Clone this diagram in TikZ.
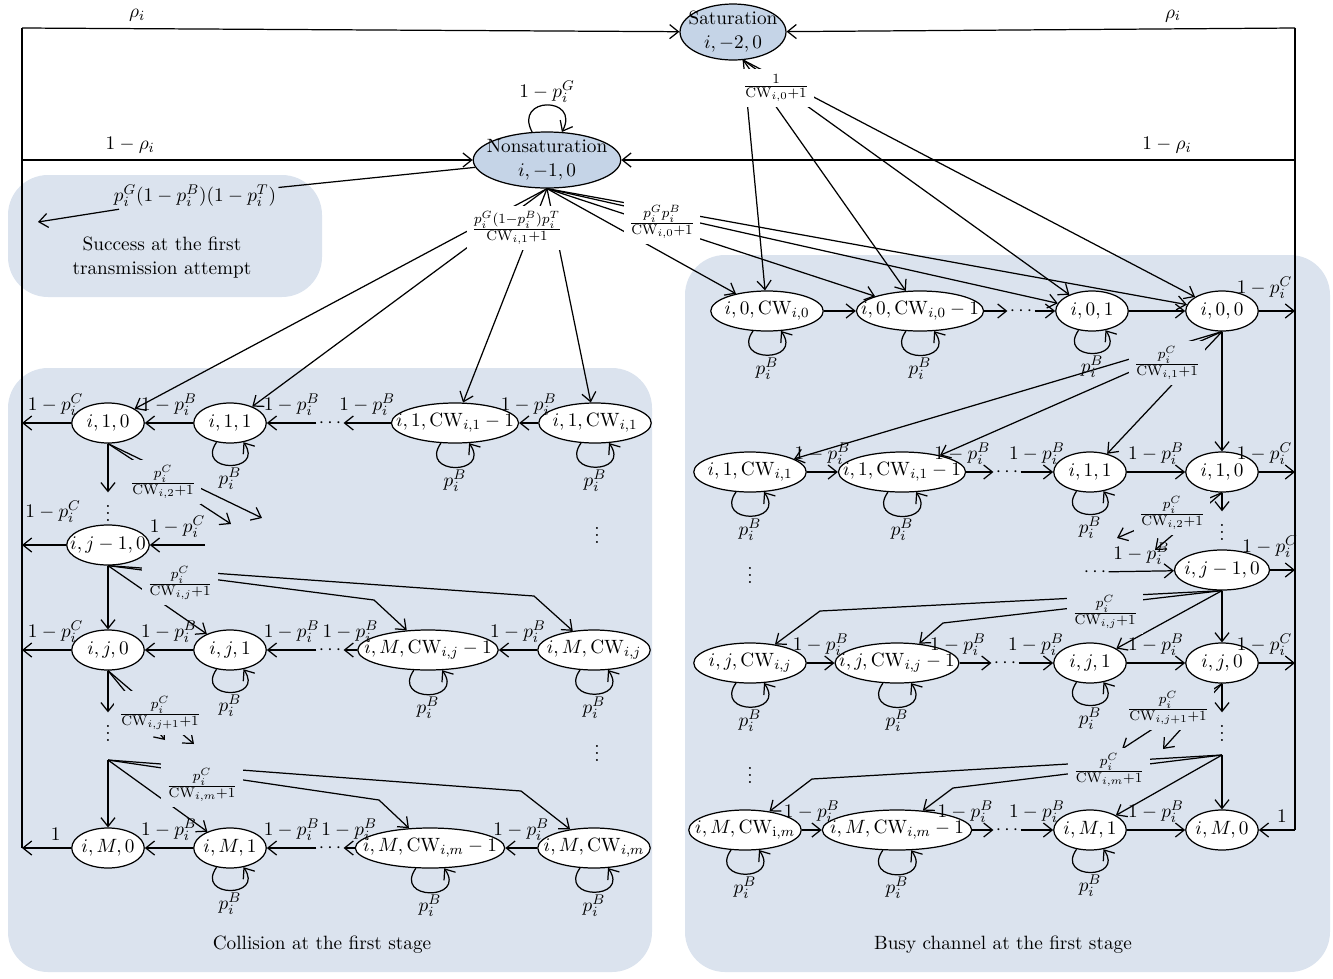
\documentclass[tikz,border=0pt,11pt]{standalone}
\usetikzlibrary{shapes.geometric,arrows.meta}
\definecolor{panel}{RGB}{219,227,238}
\definecolor{stfill}{RGB}{197,212,231}
\newcommand{\cw}[1]{\mathrm{CW}_{#1}}
\begin{document}
\begin{tikzpicture}[x=0.02cm,y=-0.02cm,line width=0.7pt,
  >={Straight Barb[length=5pt,width=8pt]},
  st/.style={ellipse,draw,fill=white,inner xsep=-8pt,inner ysep=1pt,minimum width=1.45cm,minimum height=0.8cm},
  stw/.style={st,minimum width=2.25cm},
  big/.style={ellipse,draw,fill=stfill,align=center,inner xsep=-6pt,inner ysep=-2pt,minimum height=1.12cm},
  pan/.style={fill=panel,rounded corners=0.8cm},
  fr/.style={fill=panel,inner sep=3pt},
  frw/.style={fill=white,inner sep=3pt},
  dt/.style={inner sep=1pt},
  lo/.style={above,xshift=0.18cm},
  ro/.style={above,xshift=-0.25cm},
  td/.style={above,xshift=-0.35cm},
  sl/.style={->,out=-125,in=-55,looseness=3.6,min distance=3.5mm}]
\useasboundingbox (0,0) rectangle (1333,978);
%
\fill[pan] (8,175) rectangle (322,297);
\fill[pan] (8,368) rectangle (652,972);
\fill[pan] (685,255) rectangle (1330,972);
\node[align=center] (tsucc) at (162,258) {Success at the first\\transmission attempt};
\node (tcoll) at (322,945) {Collision at the first stage};
\node (tbusy) at (1003,945) {Busy channel at the first stage};
%
\node[big,minimum width=2.12cm] (sat) at (733,32) {Saturation\\$i,-2,0$};
\node[big,minimum width=2.95cm] (nons) at (547,160) {Nonsaturation\\$i,-1,0$};
\coordinate (tl) at (22,28);
\coordinate (tr) at (1295,28);
\coordinate (ml) at (22,160);
\coordinate (mr) at (1295,160);
\coordinate (bl) at (22,848);
\coordinate (br) at (1295,830);
\draw (bl) -- (tl);
\draw (tr) -- (br);
\draw[->] (tl) -- node[pos=0.175,above]{$\rho_i$} (sat);
\draw[->] (tr) -- node[pos=0.24,above]{$\rho_i$} (sat);
\draw[->] (ml) -- node[pos=0.24,above]{$1-\rho_i$} (nons);
\draw[->] (mr) -- node[pos=0.19,above]{$1-\rho_i$} (nons);
\path (nons) edge[->,out=118,in=62,looseness=3.5,min distance=4mm] node[above,inner sep=1pt]{$1-p_i^G$} (nons);
%
\node[inner sep=1pt] (slab) at (195,196) {$p_i^G(1-p_i^B)(1-p_i^T)$};
\coordinate (sarr) at (38,222);
\draw (nons) -- (slab);
\draw[->] ([xshift=0.15cm]slab.south west) -- (sarr);
%
% collision at the first stage
\node[st] (l110) at (108,423) {$i,1,0$};
\node[st] (l111) at (230,423) {$i,1,1$};
\node[dt] (ld1) at (330,423) {$\cdots$};
\node[st] (l11c1) at (455,423) {$i,1,\cw{i,1}-1$};
\node[stw] (l11c) at (595,423) {$i,1,\cw{i,1}$};
\node[dt] (lv1) at (108,508) {$\vdots$};
\node[st,minimum width=1.65cm] (lj10) at (108,545) {$i,j-1,0$};
\node[st] (lj0) at (108,650) {$i,j,0$};
\node[st] (lj1) at (230,650) {$i,j,1$};
\node[dt] (ld2) at (330,650) {$\cdots$};
\node[st] (ljc1) at (428,650) {$i,M,\cw{i,j}-1$};
\node[stw] (ljc) at (594,650) {$i,M,\cw{i,j}$};
\node[dt] (lv2) at (108,728) {$\vdots$};
\node[st] (lM0) at (108,848) {$i,M,0$};
\node[st] (lM1) at (230,848) {$i,M,1$};
\node[dt] (ld3) at (330,848) {$\cdots$};
\node[st] (lMc1) at (430,848) {$i,M,\cw{i,m}-1$};
\node[stw] (lMc) at (594,848) {$i,M,\cw{i,m}$};
\node[dt] (lvr1) at (597,530) {$\vdots$};
\node[dt] (lvr2) at (597,748) {$\vdots$};
\coordinate (lo1) at (22,423);
\coordinate (lo2) at (22,545);
\coordinate (lo3) at (22,650);
\coordinate (lo4) at (22,848);
\coordinate (lin2) at (205,545);
\coordinate (lpt) at (108,760);
%
\draw[->] (l11c) -- node[above]{$1-p_i^B$} (l11c1);
\draw[->] (l11c1) -- node[above]{$1-p_i^B$} (ld1);
\draw[->] (ld1) -- node[above]{$1-p_i^B$} (l111);
\draw[->] (l111) -- node[above]{$1-p_i^B$} (l110);
\draw[->] (l110) -- node[lo]{$1-p_i^C$} (lo1);
\draw[->] (l110) -- (lv1);
\draw[->] (lj10) -- node[lo,yshift=0.3cm]{$1-p_i^C$} (lo2);
\draw[->] (lin2) -- node[above]{$1-p_i^C$} (lj10);
\draw[->] (lj10) -- (lj0);
\draw[->] (ljc) -- node[above]{$1-p_i^B$} (ljc1);
\draw[->] (ljc1) -- node[above]{$1-p_i^B$} (ld2);
\draw[->] (ld2) -- node[above]{$1-p_i^B$} (lj1);
\draw[->] (lj1) -- node[above]{$1-p_i^B$} (lj0);
\draw[->] (lj0) -- node[lo]{$1-p_i^C$} (lo3);
\draw[->] (lj0) -- (lv2);
\draw[->] (lpt) -- (lM0);
\draw[->] (lMc) -- node[above]{$1-p_i^B$} (lMc1);
\draw[->] (lMc1) -- node[above]{$1-p_i^B$} (ld3);
\draw[->] (ld3) -- node[above]{$1-p_i^B$} (lM1);
\draw[->] (lM1) -- node[above]{$1-p_i^B$} (lM0);
\draw[->] (lM0) -- node[lo]{$1$} (lo4);
%
% busy channel at the first stage
\node[stw] (r0c) at (767,311) {$i,0,\cw{i,0}$};
\node[st] (r0c1) at (920,311) {$i,0,\cw{i,0}-1$};
\node[dt] (rd0) at (1021,311) {$\cdots$};
\node[st] (r01) at (1092,311) {$i,0,1$};
\node[st] (r00) at (1222,311) {$i,0,0$};
\node[stw] (r1c) at (750,472) {$i,1,\cw{i,1}$};
\node[st] (r1c1) at (902,472) {$i,1,\cw{i,1}-1$};
\node[dt] (rd1) at (1007,472) {$\cdots$};
\node[st] (r11) at (1090,472) {$i,1,1$};
\node[st] (r10) at (1222,472) {$i,1,0$};
\node[dt] (rv1) at (1222,527) {$\vdots$};
\node[dt] (rdj) at (1095,572) {$\cdots$};
\node[st,minimum width=1.9cm] (rj10) at (1222,570) {$i,j-1,0$};
\node[stw] (rjc) at (750,663) {$i,j,\cw{i,j}$};
\node[st] (rjc1) at (897,663) {$i,j,\cw{i,j}-1$};
\node[dt] (rd2) at (1005,663) {$\cdots$};
\node[st] (rj1) at (1090,663) {$i,j,1$};
\node[st] (rj0) at (1222,663) {$i,j,0$};
\node[dt] (rv2) at (1222,728) {$\vdots$};
\node[stw] (rMc) at (745,830) {$i,M,\cw{\mathrm{i},m}$};
\node[st] (rMc1) at (897,830) {$i,M,\cw{i,m}-1$};
\node[dt] (rd3) at (1007,830) {$\cdots$};
\node[st] (rM1) at (1090,830) {$i,M,1$};
\node[st] (rM0) at (1222,830) {$i,M,0$};
\node[dt] (rvl1) at (750,570) {$\vdots$};
\node[dt] (rvl2) at (750,770) {$\vdots$};
\coordinate (ro0) at (1295,311);
\coordinate (ro1) at (1295,472);
\coordinate (ro2) at (1295,570);
\coordinate (ro3) at (1295,663);
\coordinate (rpt) at (1222,755);
%
\draw[->] (r0c) -- (r0c1);
\draw[->] (r0c1) -- (rd0);
\draw[->] (rd0) -- (r01);
\draw[->] (r01) -- (r00);
\draw[->] (r00) -- node[ro,yshift=0.1cm]{$1-p_i^C$} (ro0);
\draw[->] (r00) -- (r10);
\draw[->] (r1c) -- node[above]{$1-p_i^B$} (r1c1);
\draw[->] (r1c1) -- node[td]{$1-p_i^B$} (rd1);
\draw[->] (rd1) -- node[above]{$1-p_i^B$} (r11);
\draw[->] (r11) -- node[above]{$1-p_i^B$} (r10);
\draw[->] (r10) -- node[ro]{$1-p_i^C$} (ro1);
\draw[->] (r10) -- (rv1);
\draw[->] (rdj) -- node[above]{$1-p_i^B$} (rj10);
\draw[->] (rj10) -- node[ro,yshift=0.1cm]{$1-p_i^C$} (ro2);
\draw[->] (rj10) -- (rj0);
\draw[->] (rjc) -- node[above]{$1-p_i^B$} (rjc1);
\draw[->] (rjc1) -- node[td]{$1-p_i^B$} (rd2);
\draw[->] (rd2) -- node[above]{$1-p_i^B$} (rj1);
\draw[->] (rj1) -- node[above]{$1-p_i^B$} (rj0);
\draw[->] (rj0) -- node[ro]{$1-p_i^C$} (ro3);
\draw[->] (rj0) -- (rv2);
\draw[->] (rpt) -- (rM0);
\draw[->] (rMc) -- node[above]{$1-p_i^B$} (rMc1);
\draw[->] (rMc1) -- node[td]{$1-p_i^B$} (rd3);
\draw[->] (rd3) -- node[above]{$1-p_i^B$} (rM1);
\draw[->] (rM1) -- node[above]{$1-p_i^B$} (rM0);
\draw[->] (br) -- node[above,xshift=0.1cm]{$1$} (rM0);
%
\foreach \n in {l111,l11c1,l11c,lj1,ljc1,ljc,lM1,lMc1,lMc,r0c,r0c1,r01,r1c,r1c1,r11,rjc,rjc1,rj1,rMc,rMc1,rM1}
  \path (\n) edge[sl] node[below,inner sep=1pt]{$p_i^B$} (\n);
%
% fan-outs with their fractions
\draw[->] (nons.south) -- (l110);
\draw[->] (nons.south) -- (l111);
\draw[->] (nons.south) -- (l11c1);
\draw[->] (nons.south) -- (l11c);
\node[frw] (nf1) at (517,228) {$\frac{p_i^G(1-p_i^B)p_i^T}{\cw{i,1}+1}$};
\draw[->] (nons.south) -- (r0c);
\draw[->] (nons.south) -- (r0c1);
\draw[->] (nons.south) -- (r01);
\draw[->] (nons.south) -- (r00);
\node[frw] (nf2) at (662,222) {$\frac{p_i^Gp_i^B}{\cw{i,0}+1}$};
\draw[->] (sat.290) -- (r0c);
\draw[->] (sat.290) -- (r0c1);
\draw[->] (sat.290) -- (r01);
\draw[->] (sat.290) -- (r00);
\node[frw] (sf) at (776,88) {$\frac{1}{\cw{i,0}+1}$};
%
\coordinate (lx1) at (262,518);
\coordinate (lx2) at (231,524);
\draw[->] (l110.south) -- (lx1);
\draw[->] (l110.south) -- (lx2);
\node[fr] (lf1) at (163,482) {$\frac{p_i^C}{\cw{i,2}+1}$};
\coordinate (lb1) at (374,600);
\coordinate (lb2) at (534,596);
\draw[->] (lj10.south) -- (lj1);
\draw[->] (lj10.south) -- (lb1) -- (ljc1);
\draw[->] (lj10.south) -- (lb2) -- (ljc);
\node[fr] (lf2) at (180,583) {$\frac{p_i^C}{\cw{i,j}+1}$};
\coordinate (lx3) at (165,740);
\coordinate (lx4) at (194,744);
\draw[->] (lj0.south) -- (lx3);
\draw[->] (lj0.south) -- (lx4);
\node[fr] (lf3) at (160,713) {$\frac{p_i^C}{\cw{i,j+1}+1}$};
\coordinate (lb3) at (379,800);
\coordinate (lb4) at (521,791);
\draw[->] (lpt) -- (lM1);
\draw[->] (lpt) -- (lb3) -- (lMc1);
\draw[->] (lpt) -- (lb4) -- (lMc);
\node[fr] (lf4) at (202,785) {$\frac{p_i^C}{\cw{i,m}+1}$};
%
\draw[->] (r00.south) -- (r1c);
\draw[->] (r00.south) -- (r1c1);
\draw[->] (r00.south) -- (r11);
\node[fr] (rf1) at (1167,363) {$\frac{p_i^C}{\cw{i,1}+1}$};
\coordinate (rx1) at (1117,538);
\coordinate (rx2) at (1155,550);
\draw[->] (r10.south) -- (rx1);
\draw[->] (r10.south) -- (rx2);
\node[fr] (rf2) at (1172,513) {$\frac{p_i^C}{\cw{i,2}+1}$};
\coordinate (rb1) at (820,611);
\coordinate (rb2) at (943,623);
\draw[->] (rj10.south) -- (rb1) -- (rjc);
\draw[->] (rj10.south) -- (rb2) -- (rjc1);
\draw[->] (rj10.south) -- (rj1);
\node[fr] (rf3) at (1105,612) {$\frac{p_i^C}{\cw{i,j}+1}$};
\coordinate (rx3) at (1122,749);
\coordinate (rx4) at (1163,749);
\draw[->] (rj0.south) -- (rx3);
\draw[->] (rj0.south) -- (rx4);
\node[fr] (rf4) at (1168,708) {$\frac{p_i^C}{\cw{i,j+1}+1}$};
\coordinate (rb3) at (812,779);
\coordinate (rb4) at (953,788);
\draw[->] (rpt) -- (rb3) -- (rMc);
\draw[->] (rpt) -- (rb4) -- (rMc1);
\draw[->] (rpt) -- (rM1);
\node[fr] (rf5) at (1109,770) {$\frac{p_i^C}{\cw{i,m}+1}$};
\end{tikzpicture}
\end{document}
